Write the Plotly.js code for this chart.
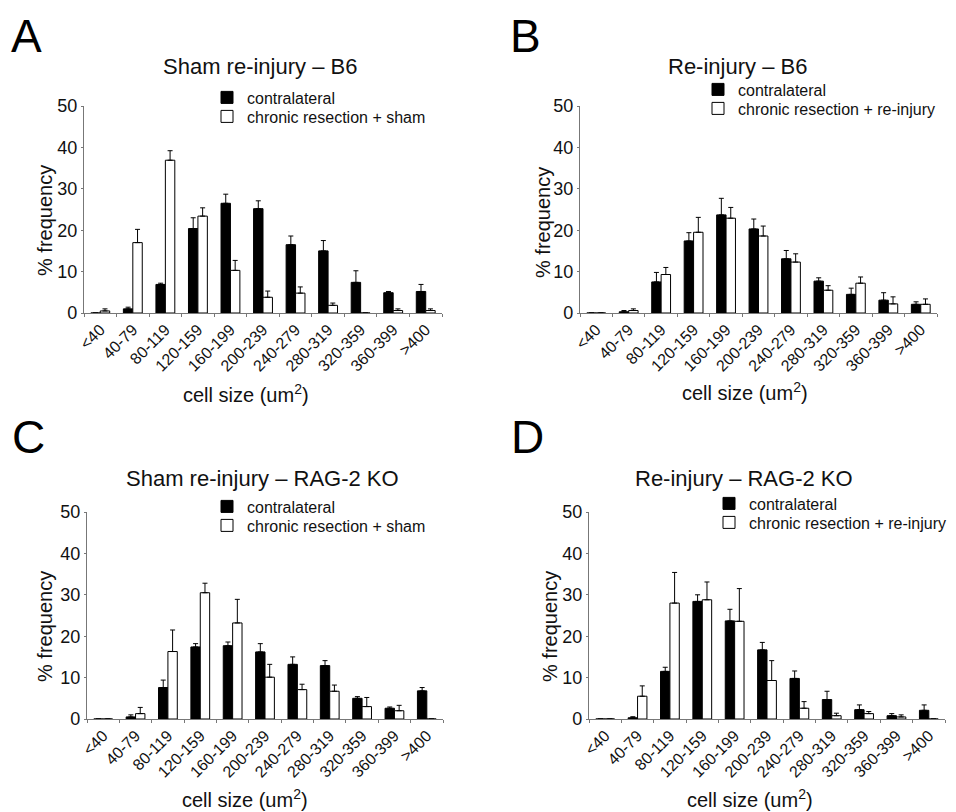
<!DOCTYPE html>
<html>
<head>
<meta charset="utf-8">
<script src="https://cdn.plot.ly/plotly-3.0.1.min.js"></script>
<style>html,body{margin:0;padding:0;background:#fff;}#chart{width:956px;height:812px;}</style>
</head>
<body>
<div id="chart"></div>
<script>
const categories = ['&lt;40','40-79','80-119','120-159','160-199','200-239','240-279','280-319','320-359','360-399','&gt;400'];

const seriesBlack = 'contralateral';
const seriesWhiteSham = 'chronic resection + sham';
const seriesWhiteReinj = 'chronic resection + re-injury';

const panelTitles = ['Sham re-injury – B6', 'Re-injury – B6', 'Sham re-injury – RAG-2 KO', 'Re-injury – RAG-2 KO'];
const panelLetters = ['A', 'B', 'C', 'D'];

const A_contra     = [0, 1.0, 6.9, 20.4, 26.5, 25.2, 16.5, 15.0, 7.4, 4.9, 5.2];
const A_contra_err = [0, 0.4, 0.3, 2.6, 2.2, 1.9, 2.1, 2.5, 2.8, 0.3, 1.7];
const A_white      = [0.5, 17.0, 36.9, 23.4, 10.3, 3.8, 4.8, 1.85, 0, 0.6, 0.6];
const A_white_err  = [0.5, 3.2, 2.3, 2.0, 2.4, 1.5, 1.5, 0.55, 0, 0.4, 0.4];

const B_contra     = [0, 0.3, 7.5, 17.4, 23.7, 20.3, 13.1, 7.7, 4.5, 3.1, 2.1];
const B_contra_err = [0, 0.3, 2.3, 2.0, 4.0, 2.4, 2.0, 0.8, 1.5, 1.8, 0.6];
const B_white      = [0, 0.6, 9.3, 19.5, 22.9, 18.6, 12.3, 5.5, 7.2, 2.2, 2.1];
const B_white_err  = [0, 0.4, 1.7, 3.6, 2.6, 2.4, 2.0, 1.1, 1.5, 1.7, 1.3];

const C_contra     = [0, 0.5, 7.6, 17.4, 17.7, 16.2, 13.2, 12.9, 5.0, 2.6, 6.8];
const C_contra_err = [0, 0.5, 1.8, 0.8, 0.9, 2.0, 1.8, 1.2, 0.4, 0.3, 0.8];
const C_white      = [0, 1.3, 16.3, 30.5, 23.2, 10.1, 7.1, 6.7, 3.0, 2.0, 0];
const C_white_err  = [0, 1.5, 5.2, 2.3, 5.7, 3.1, 1.3, 1.5, 2.2, 1.3, 0];

const D_contra     = [0, 0.3, 11.5, 28.4, 23.7, 16.7, 9.8, 4.7, 2.25, 0.8, 2.1];
const D_contra_err = [0, 0.25, 1.0, 1.6, 2.8, 1.8, 1.8, 2.0, 1.15, 0.5, 1.3];
const D_white      = [0, 5.5, 28.0, 28.8, 23.6, 9.3, 2.6, 0.8, 1.3, 0.5, 0];
const D_white_err  = [0, 2.5, 7.4, 4.3, 7.9, 4.8, 1.6, 0.6, 0.5, 0.5, 0];

const W = 956, H = 812;
const FONT = 'Liberation Sans, Arial, sans-serif';
const px = v => v / W;
const py = v => 1 - v / H;

const panels = [
  {black: A_contra, berr: A_contra_err, white: A_white, werr: A_white_err, wname: seriesWhiteSham,
   x0: 84, x1: 442, y0: 313, y1: 106, legX: 207, legRows: [97, 116], title: [260, 67], letter: [26, 36], xt: [246, 393], yt: [45, 221]},
  {black: B_contra, berr: B_contra_err, white: B_white, werr: B_white_err, wname: seriesWhiteReinj,
   x0: 580, x1: 937, y0: 313, y1: 106, legX: 698, legRows: [89, 108], title: [737, 67], letter: [525, 36], xt: [745, 391], yt: [543, 223]},
  {black: C_contra, berr: C_contra_err, white: C_white, werr: C_white_err, wname: seriesWhiteSham,
   x0: 87, x1: 443, y0: 719, y1: 512, legX: 207, legRows: [506, 525], title: [262, 478], letter: [28, 437], xt: [245, 798], yt: [45, 627]},
  {black: D_contra, berr: D_contra_err, white: D_white, werr: D_white_err, wname: seriesWhiteReinj,
   x0: 589, x1: 945, y0: 719, y1: 512, legX: 709, legRows: [503, 522], title: [744, 478], letter: [527, 437], xt: [750, 798], yt: [550, 627]}
];

const traces = [];
const layout = {
  width: W, height: H,
  margin: {l: 0, r: 0, t: 0, b: 0},
  paper_bgcolor: '#fff', plot_bgcolor: 'rgba(0,0,0,0)',
  font: {family: FONT, color: '#111'},
  barmode: 'group', bargap: 0.42, bargroupgap: 0,
  showlegend: true,
  annotations: []
};

const errOrSkip = arr => arr.map(e => (e > 0 ? e : NaN));
let legendCount = 0;
const nextLegend = () => { legendCount += 1; return legendCount === 1 ? 'legend' : 'legend' + legendCount; };

panels.forEach((p, i) => {
  const n = i === 0 ? '' : String(i + 1);
  const xa = 'x' + n, ya = 'y' + n;
  const zeros = categories.map(() => 0);
  const legB = nextLegend(), legW = nextLegend();
  traces.push({
    type: 'bar', x: categories, y: p.black, name: seriesBlack,
    xaxis: xa, yaxis: ya, legend: legB,
    marker: {color: '#000', line: {color: '#000', width: 1}},
    error_y: {type: 'data', symmetric: false, array: errOrSkip(p.berr), arrayminus: zeros, color: '#000', thickness: 1, width: 2.5},
    hoverinfo: 'y'
  });
  traces.push({
    type: 'bar', x: categories, y: p.white, name: p.wname,
    xaxis: xa, yaxis: ya, legend: legW,
    marker: {color: '#fff', line: {color: '#000', width: 1}},
    error_y: {type: 'data', symmetric: false, array: errOrSkip(p.werr), arrayminus: zeros, color: '#000', thickness: 1, width: 2.5},
    hoverinfo: 'y'
  });
  layout['xaxis' + n] = {
    domain: [px(p.x0), px(p.x1)], anchor: ya, type: 'category',
    showline: true, linecolor: '#777', linewidth: 1.2, mirror: false,
    ticks: 'outside', ticklen: 3, tickcolor: '#777', tickson: 'boundaries',
    tickangle: -45, tickfont: {size: 16, family: FONT, color: '#111'},
    showgrid: false, zeroline: false, fixedrange: true
  };
  layout['yaxis' + n] = {
    domain: [py(p.y0), py(p.y1)], anchor: xa, range: [0, 50], dtick: 10,
    showline: true, linecolor: '#777', linewidth: 1.2,
    ticks: 'outside', ticklen: 2, tickcolor: '#777',
    tickfont: {size: 18, family: FONT, color: '#111'},
    showgrid: false, zeroline: false, fixedrange: true
  };
  [legB, legW].forEach((lg, k) => {
    layout[lg] = {
      x: px(p.legX), y: py(p.legRows[k] - 16.5), xanchor: 'left', yanchor: 'top',
      bgcolor: 'rgba(0,0,0,0)', borderwidth: 0,
      font: {size: 16, family: FONT, color: '#111'},
      itemclick: false, itemdoubleclick: false
    };
  });
  layout.annotations.push(
    {xref: 'paper', yref: 'paper', x: px(p.title[0]), y: py(p.title[1]), xanchor: 'center', yanchor: 'middle',
     text: panelTitles[i], showarrow: false, font: {size: 22, family: FONT, color: '#111'}},
    {xref: 'paper', yref: 'paper', x: px(p.letter[0]), y: py(p.letter[1]), xanchor: 'center', yanchor: 'middle',
     text: panelLetters[i], showarrow: false, font: {size: 46, family: FONT, color: '#000'}},
    {xref: 'paper', yref: 'paper', x: px(p.xt[0]), y: py(p.xt[1]), xanchor: 'center', yanchor: 'middle',
     text: 'cell size (um<sup>2</sup>)', showarrow: false, font: {size: 20, family: FONT, color: '#111'}},
    {xref: 'paper', yref: 'paper', x: px(p.yt[0]), y: py(p.yt[1]), xanchor: 'center', yanchor: 'middle',
     text: '% frequency', textangle: -90, showarrow: false, font: {size: 20, family: FONT, color: '#111'}}
  );
});

Plotly.newPlot('chart', traces, layout, {staticPlot: true, displayModeBar: false});
</script>
</body>
</html>
